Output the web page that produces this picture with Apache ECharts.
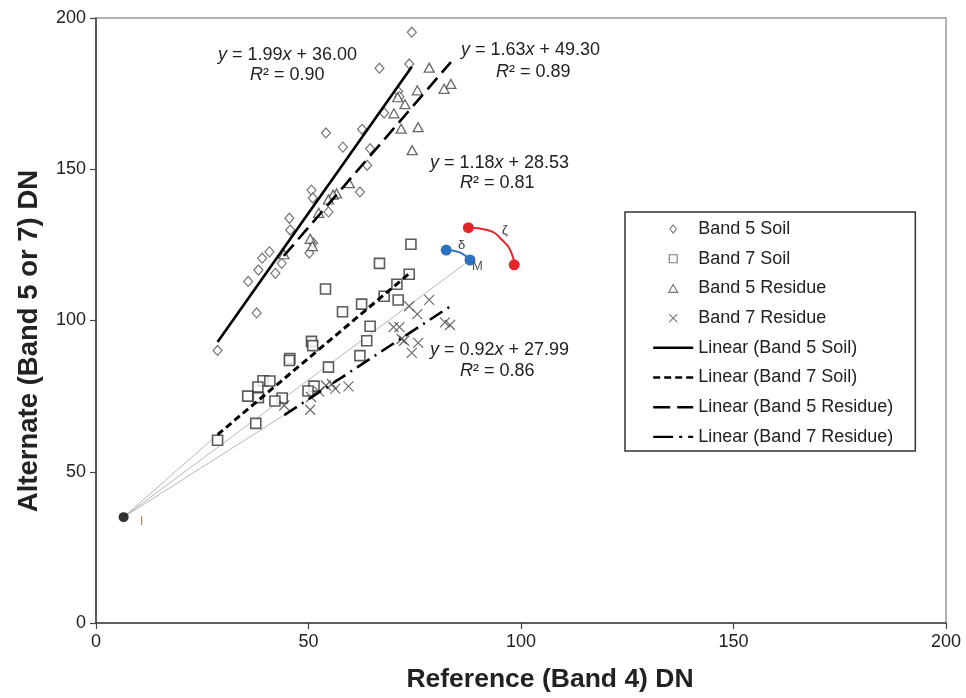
<!DOCTYPE html>
<html>
<head>
<meta charset="utf-8">
<script src="https://cdn.jsdelivr.net/npm/echarts@6/dist/echarts.min.js"></script>
<style>
  html, body { margin: 0; padding: 0; background: #ffffff; }
  #chart { width: 966px; height: 698px; }
</style>
</head>
<body>
<div id="chart"></div>
<script>
// Reference band (Band 4) DN vs alternate band (5 or 7) DN
const band5Soil = [
  [74.3,195.3],[66.7,183.4],[73.7,184.8],[71.1,175.7],[71.4,174.0],[67.8,168.6],
  [62.6,163.2],[54.1,162.0],[58.1,157.3],[64.5,156.8],[63.8,151.3],[62.1,142.5],
  [50.7,143.1],[51.0,140.5],[54.7,135.9],[45.5,133.8],[45.7,129.9],[51.1,125.6],
  [50.2,122.3],[40.8,122.7],[39.1,120.6],[43.7,118.9],[38.2,116.7],[42.2,115.6],
  [35.8,112.9],[37.8,102.5],[28.6,90.1]
];
const band7Soil = [
  [74.1,125.2],[66.7,118.9],[73.7,115.3],[70.8,112.0],[54.0,110.4],[67.8,108.0],
  [71.1,106.8],[62.5,105.4],[58.0,102.9],[64.5,98.1],[63.7,93.3],[50.7,93.1],
  [51.0,91.7],[62.1,88.4],[45.6,87.4],[45.5,86.8],[54.7,84.6],[39.3,80.1],
  [40.9,80.0],[38.1,78.0],[51.3,78.3],[49.9,76.7],[35.7,75.0],[38.2,74.5],
  [43.8,74.4],[42.1,73.4],[37.6,66.0],[28.6,60.4]
];
const band5Residue = [
  [78.4,183.6],[83.5,178.2],[81.9,176.6],[75.6,176.1],[71.0,173.8],[72.7,171.5],
  [70.1,168.5],[71.8,163.4],[75.8,163.9],[74.4,156.3],[59.6,145.4],[56.6,142.0],
  [55.8,141.6],[54.7,140.0],[52.4,135.6],[50.4,127.0],[50.9,124.6],[44.2,121.9]
];
const band7Residue = [
  [78.4,106.8],[73.7,104.7],[75.6,102.1],[82.1,99.4],[83.3,98.5],[70.0,97.8],
  [71.4,97.8],[71.9,93.9],[72.5,93.3],[75.8,92.6],[74.3,89.3],[44.3,71.9],
  [50.4,70.5],[50.6,74.7],[52.5,76.5],[54.1,78.5],[55.5,79.0],[56.3,77.5],
  [59.4,78.2]
];

const seriesNames = ['Band 5 Soil', 'Band 7 Soil', 'Band 5 Residue', 'Band 7 Residue'];
const seriesData = [band5Soil, band7Soil, band5Residue, band7Residue];
// linear fits: y = slope * x + intercept
const fitSlopes = [1.99, 1.18, 1.63, 0.92];
const fitIntercepts = [36.00, 28.53, 49.30, 27.99];
const fitR2 = ['0.90', '0.81', '0.89', '0.86'];

// Geometric construction points
const pointI = [6.5, 35];
const pointM = [88, 120];
const deltaArc = [[82.4,123.3],[85.2,122.7],[88,120]];
const zetaArc = [[87.6,130.7],[92.1,129.9],[95.8,126.3],[97.8,122.2],[98.4,118.4]];

const axisMin = 0, axisMax = 200, axisStep = 50;

const FONT = 'Arial, "Liberation Sans", Helvetica, sans-serif';
const INK = '#222';

const crossPath = 'path://M0,0L10,10M10,0L0,10';
const markerStyles = [
  { symbol: 'diamond', symbolSize: [9, 10], itemStyle: { color: '#fff', borderColor: '#555', borderWidth: 1.2 } },
  { symbol: 'rect', symbolSize: 10, itemStyle: { color: '#fff', borderColor: '#333', borderWidth: 1.6 } },
  { symbol: 'triangle', symbolSize: [10, 9], itemStyle: { color: '#fff', borderColor: '#444', borderWidth: 1.3 } },
  { symbol: crossPath, symbolSize: 10, itemStyle: { color: 'rgba(0,0,0,0)', borderColor: '#444', borderWidth: 1.2 } }
];
// square-proportioned outlines for the legend keys
const legendMarkerIcons = [
  'path://M5,0L9,5L5,10L1,5Z',
  'path://M0,0L10,0L10,10L0,10Z',
  'path://M5,0L10,9L0,9Z',
  crossPath
];
const fitLineTypes = ['solid', [7, 4], [15, 7], [15, 6, 2, 6]];
const fitLineWidths = [2.6, 3, 2.6, 2.6];
const legendLineTypes = ['solid', [7, 4], [17, 7], [20, 6, 3, 6]];

function fitSegment(i) {
  const xs = seriesData[i].map(p => p[0]);
  const x0 = Math.min.apply(null, xs), x1 = Math.max.apply(null, xs);
  return [[x0, fitSlopes[i] * x0 + fitIntercepts[i]], [x1, fitSlopes[i] * x1 + fitIntercepts[i]]];
}

const series = [];
const fitSegments = seriesData.map((_, i) => fitSegment(i));

// thin grey guides fanning out of I
[fitSegments[1][0], pointM, fitSegments[3][0]].forEach(end => {
  series.push({
    type: 'line', data: [pointI, end], symbol: 'none', silent: true,
    lineStyle: { color: '#b8b8b8', width: 1 }, z: 1
  });
});

seriesData.forEach((data, i) => {
  series.push(Object.assign({
    name: seriesNames[i], type: 'scatter', data: data, z: 3
  }, markerStyles[i]));
});

seriesData.forEach((_, i) => {
  series.push({
    name: 'Linear (' + seriesNames[i] + ')', type: 'line', data: fitSegments[i],
    symbol: 'none', silent: true, z: 4,
    itemStyle: { color: '#000' },
    lineStyle: { color: '#000', width: fitLineWidths[i], type: fitLineTypes[i] }
  });
});

// arcs delta and zeta
series.push({
  type: 'line', data: deltaArc, smooth: true, symbol: 'circle', silent: true, z: 5,
  symbolSize: (v, p) => p.dataIndex === 1 ? 0 : 11,
  lineStyle: { color: '#2b73be', width: 2 }, itemStyle: { color: '#2b73be' }
});
series.push({
  type: 'line', data: zetaArc, smooth: true, symbol: 'circle', silent: true, z: 5,
  symbolSize: (v, p) => (p.dataIndex === 0 || p.dataIndex === zetaArc.length - 1) ? 11 : 0,
  lineStyle: { color: '#e4262b', width: 2 }, itemStyle: { color: '#e4262b' }
});

series.push({
  type: 'scatter', data: [pointI], symbol: 'circle', symbolSize: 10, silent: true, z: 5,
  itemStyle: { color: '#000' }
});

const legendData = seriesNames.map((n, i) => ({
  name: n,
  icon: legendMarkerIcons[i],
  itemStyle: { color: markerStyles[i].itemStyle.color, borderColor: '#555', borderWidth: 1.1 }
})).concat(seriesNames.map((n, i) => ({
  name: 'Linear (' + n + ')',
  itemStyle: { color: 'rgba(0,0,0,0)', borderWidth: 0, opacity: 0 },
  lineStyle: { color: '#000', width: 2.4, type: legendLineTypes[i], opacity: 1 }
})));

function eqText(i) {
  return '{i|y} = ' + fitSlopes[i].toFixed(2) + '{i|x} + ' + fitIntercepts[i].toFixed(2);
}
const eqRich = { i: { fontStyle: 'italic', fontSize: 18, fontFamily: FONT, fill: INK } };
const eqPlaces = [
  { eq: [218, 55], r2: [250, 75] },
  { eq: [461, 50], r2: [496, 72] },
  { eq: [430, 163], r2: [460, 183] },
  { eq: [430, 350], r2: [460, 371] }
];
// equation blocks in plot order: Band 5 Soil, Band 5 Residue, Band 7 Soil, Band 7 Residue
const eqOrder = [0, 2, 1, 3];
const graphics = [];
eqOrder.forEach((si, k) => {
  const pl = eqPlaces[k];
  graphics.push({
    type: 'text', x: pl.eq[0], y: pl.eq[1], z: 10,
    style: { text: eqText(si), rich: eqRich, fontSize: 18, fontFamily: FONT, fill: INK, verticalAlign: 'middle' }
  });
  graphics.push({
    type: 'text', x: pl.r2[0], y: pl.r2[1], z: 10,
    style: { text: '{i|R}² = ' + fitR2[si], rich: eqRich, fontSize: 18, fontFamily: FONT, fill: INK, verticalAlign: 'middle' }
  });
});
graphics.push({ type: 'text', x: 458, y: 245, z: 10, style: { text: 'δ', fontSize: 13, fontFamily: FONT, fill: '#333', verticalAlign: 'middle' } });
graphics.push({ type: 'text', x: 502, y: 230, z: 10, style: { text: 'ζ', fontSize: 13, fontFamily: FONT, fill: '#333', verticalAlign: 'middle' } });
graphics.push({ type: 'text', x: 472, y: 266, z: 10, style: { text: 'M', fontSize: 13, fontFamily: FONT, fill: '#555', verticalAlign: 'middle' } });
graphics.push({ type: 'text', x: 140, y: 522, z: 10, style: { text: 'I', fontSize: 12, fontFamily: FONT, fill: '#c8783c', verticalAlign: 'middle' } });

const chart = echarts.init(document.getElementById('chart'), null, { renderer: 'canvas' });
chart.setOption({
  backgroundColor: '#fff',
  animation: false,
  textStyle: { fontFamily: FONT },
  grid: { left: 96, right: 20, top: 18, bottom: 73, show: true, borderColor: '#999', borderWidth: 1.5 },
  xAxis: {
    type: 'value', min: axisMin, max: axisMax, interval: axisStep,
    name: 'Reference (Band 4) DN', nameLocation: 'middle', nameGap: 43,
    nameTextStyle: { fontSize: 26.5, fontWeight: 'bold', color: INK, fontFamily: FONT, padding: [0, 0, 0, 58] },
    axisLine: { show: true, onZero: false, lineStyle: { color: '#444', width: 1.6 } },
    axisTick: { show: true, length: 6, lineStyle: { color: '#444', width: 1.2 } },
    axisLabel: { fontSize: 18, color: INK, margin: 10, fontFamily: FONT },
    splitLine: { show: false }
  },
  yAxis: {
    type: 'value', min: axisMin, max: axisMax, interval: axisStep,
    name: 'Alternate (Band 5 or 7) DN', nameLocation: 'middle', nameGap: 53,
    nameTextStyle: { fontSize: 27.5, fontWeight: 'bold', color: INK, fontFamily: FONT, padding: [0, 41, 0, 0] },
    axisLine: { show: true, onZero: false, lineStyle: { color: '#444', width: 1.6 } },
    axisTick: { show: true, length: 6, lineStyle: { color: '#444', width: 1.2 } },
    axisLabel: { fontSize: 18, color: INK, margin: 10, fontFamily: FONT },
    splitLine: { show: false }
  },
  legend: {
    orient: 'vertical', left: 625, top: 212,
    data: legendData,
    itemWidth: 40, itemHeight: 8, itemGap: 11.7,
    symbolKeepAspect: true,
    padding: [8, 22, 5, 27],
    borderColor: '#333', borderWidth: 1.5, backgroundColor: '#fff',
    textStyle: { fontSize: 18, color: INK, fontFamily: FONT },
    selectedMode: false
  },
  graphic: graphics,
  series: series
});
</script>
</body>
</html>
